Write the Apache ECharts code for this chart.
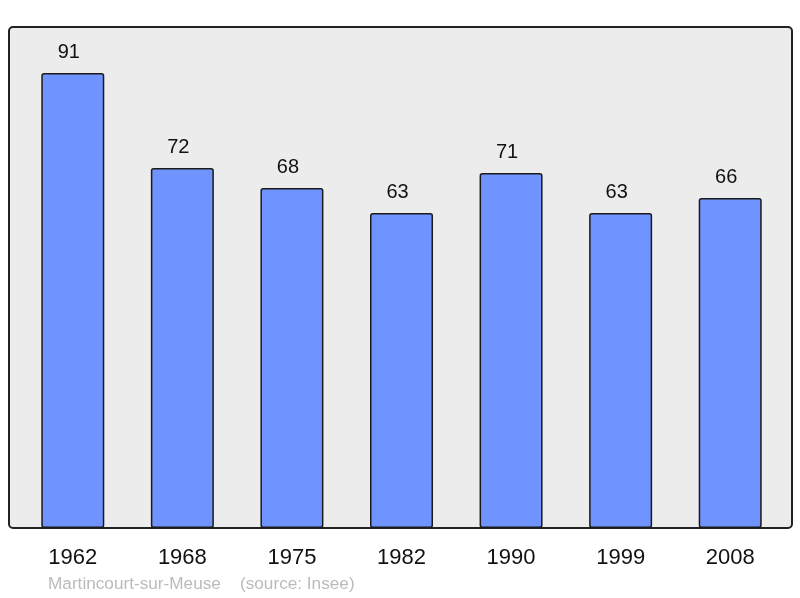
<!DOCTYPE html>
<html><head><meta charset="utf-8">
<script src="https://cdn.jsdelivr.net/npm/echarts@6/dist/echarts.min.js"></script>
<style>html,body{margin:0;padding:0;background:#fff}#c{width:800px;height:598px}</style>
</head><body><div id="c"></div>
<script>
const years = ['1962','1968','1975','1982','1990','1999','2008'];
const population = [91,72,68,63,71,63,66];
const footer = 'Martincourt-sur-Meuse    (source: Insee)';

const chart = echarts.init(document.getElementById('c'), null, {renderer:'canvas'});
chart.setOption({
  animation:false,
  backgroundColor:'#ffffff',
  graphic:[
    {type:'rect', z:-10, shape:{x:9,y:27,width:783,height:501,r:4},
     style:{fill:'#ececec', stroke:'#222', lineWidth:2}},
    {type:'text', left:48, top:576, style:{text:footer, fill:'#bbbbbb', font:'17.2px "Liberation Sans", Arial, sans-serif'}}
  ],
  grid:{left:18, right:15, top:28, bottom:70},
  xAxis:{type:'category', data:years,
    axisLine:{show:false}, axisTick:{show:false},
    axisLabel:{color:'#111', fontSize:22, margin:19, fontFamily:'Liberation Sans, Arial, sans-serif'}},
  yAxis:{type:'value', min:0, max:100, show:false, splitLine:{show:false}},
  series:[{type:'bar', data:population, barWidth:63,
    itemStyle:{color:'#7094ff', borderColor:'#1a1a1a', borderWidth:1.5, borderRadius:2},
    label:{show:true, position:'top', distance:11, offset:[-4,0], color:'#111', fontSize:20,
      fontFamily:'Liberation Sans, Arial, sans-serif'}}]
});
</script></body></html>
